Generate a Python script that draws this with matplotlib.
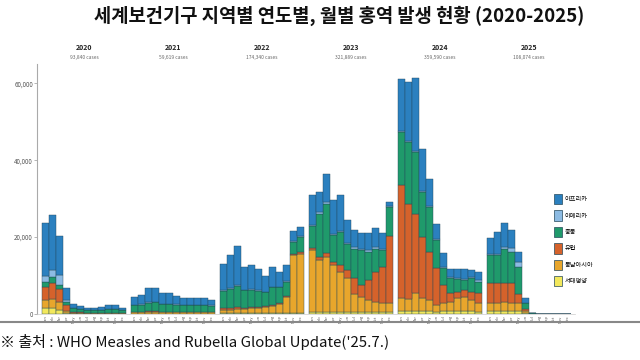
import numpy as np
import matplotlib
matplotlib.use('Agg')
from matplotlib import pyplot as plt
from matplotlib.patches import Patch
from matplotlib.lines import Line2D

plt.rcParams['font.family'] = ['Noto Sans CJK KR', 'DejaVu Sans']

years = ['2020', '2021', '2022', '2023', '2024', '2025']
year_cases = ['93,840 cases', '59,619 cases', '174,340 cases',
              '321,889 cases', '359,590 cases', '108,074 cases']
months = ['Jan', 'Feb', 'Mar', 'Apr', 'May', 'Jun',
          'Jul', 'Aug', 'Sep', 'Oct', 'Nov', 'Dec']

regions = ['아프리카', '아메리카', '중동', '유럽', '동남아시아', '서태평양']

# monthly cases (thousands), one row per year
western_pacific = [
    1.5, 1.5, 1.0, 0.2, 0.1, 0.1, 0.1, 0.1, 0.1, 0.1, 0.1, 0.1,
    0.1, 0.1, 0.1, 0.1, 0.1, 0.1, 0.1, 0.1, 0.1, 0.1, 0.1, 0.1,
    0.3, 0.3, 0.3, 0.3, 0.3, 0.3, 0.3, 0.3, 0.3, 0.3, 0.3, 0.3,
    0.5, 0.5, 0.5, 0.5, 0.5, 0.5, 0.5, 0.5, 0.5, 0.5, 0.5, 0.5,
    0.8, 0.8, 0.8, 0.8, 0.8, 0.6, 0.8, 0.8, 0.8, 0.8, 0.8, 0.6,
    0.8, 0.8, 0.8, 0.8, 0.8, 0.2, 0.0, 0.0, 0.0, 0.0, 0.0, 0.0,
]
south_east_asia = [
    2.1, 2.5, 2.0, 0.5, 0.2, 0.2, 0.1, 0.1, 0.1, 0.1, 0.1, 0.1,
    0.3, 0.3, 0.3, 0.3, 0.3, 0.3, 0.3, 0.3, 0.3, 0.3, 0.3, 0.3,
    0.8, 0.8, 1.0, 1.0, 1.2, 1.3, 1.5, 1.8, 2.3, 4.0, 15.0, 15.3,
    16.1, 13.5, 14.4, 12.2, 10.5, 8.8, 4.7, 4.0, 3.1, 2.7, 2.4, 2.3,
    3.3, 3.0, 4.6, 3.3, 2.8, 1.7, 2.0, 2.4, 3.3, 3.7, 2.8, 2.2,
    2.0, 2.0, 2.4, 2.0, 2.0, 0.6, 0.05, 0.0, 0.0, 0.0, 0.0, 0.0,
]
europe = [
    3.3, 4.0, 3.5, 1.5, 0.2, 0.1, 0.1, 0.1, 0.1, 0.1, 0.1, 0.1,
    0.2, 0.2, 0.3, 0.3, 0.2, 0.2, 0.2, 0.2, 0.2, 0.2, 0.2, 0.2,
    0.4, 0.4, 0.4, 0.3, 0.3, 0.3, 0.3, 0.3, 0.3, 0.3, 0.4, 0.4,
    0.5, 0.7, 0.9, 0.9, 1.7, 2.1, 4.1, 3.0, 5.2, 7.8, 9.4, 17.5,
    29.4, 24.9, 20.7, 16.0, 12.6, 9.6, 4.7, 2.2, 1.7, 1.7, 2.2, 2.6,
    5.2, 5.2, 4.8, 5.2, 2.4, 0.5, 0.05, 0.0, 0.0, 0.0, 0.0, 0.0,
]
middle_east = [
    1.5, 1.5, 1.0, 1.0, 1.0, 0.9, 0.6, 0.6, 0.7, 1.0, 1.0, 0.6,
    1.6, 1.8, 2.2, 2.3, 2.0, 2.0, 1.8, 1.6, 1.7, 1.7, 1.7, 1.5,
    4.5, 5.0, 5.5, 4.5, 4.5, 4.0, 3.5, 4.5, 4.0, 3.8, 3.0, 4.0,
    5.8, 11.4, 12.9, 6.9, 8.7, 6.7, 7.7, 9.1, 7.4, 6.0, 4.3, 7.6,
    13.9, 16.1, 16.1, 11.7, 11.7, 7.3, 4.4, 3.9, 3.2, 2.6, 3.5, 3.0,
    7.3, 7.3, 9.0, 8.2, 7.1, 1.5, 0.1, 0.0, 0.0, 0.0, 0.0, 0.0,
]
americas = [
    1.5, 2.0, 2.5, 0.5, 0.1, 0.1, 0.1, 0.1, 0.1, 0.1, 0.1, 0.1,
    0.1, 0.1, 0.1, 0.1, 0.1, 0.1, 0.1, 0.1, 0.1, 0.1, 0.1, 0.1,
    0.2, 0.2, 0.3, 0.2, 0.2, 0.2, 0.2, 0.2, 0.2, 0.2, 0.2, 0.2,
    0.3, 0.3, 0.3, 0.3, 0.3, 0.3, 0.3, 0.3, 0.3, 0.3, 0.3, 0.3,
    0.3, 0.3, 0.3, 0.3, 0.3, 0.3, 0.3, 0.3, 0.3, 0.3, 0.3, 0.3,
    0.3, 0.3, 0.5, 1.0, 1.3, 0.1, 0.0, 0.0, 0.0, 0.0, 0.0, 0.0,
]
africa = [
    13.8, 14.2, 10.3, 3.0, 0.9, 0.7, 0.5, 0.5, 0.6, 0.9, 0.9, 0.5,
    2.2, 2.5, 3.7, 3.6, 2.7, 2.7, 2.2, 1.8, 1.7, 1.7, 1.7, 1.3,
    6.8, 8.6, 10.2, 6.0, 6.1, 5.5, 4.1, 5.2, 3.9, 4.0, 2.7, 2.5,
    7.7, 5.3, 7.5, 8.8, 9.2, 6.0, 4.5, 4.1, 4.5, 5.0, 4.2, 1.0,
    13.3, 15.3, 19.0, 10.7, 7.0, 3.9, 3.7, 2.0, 2.3, 2.5, 1.8, 2.3,
    4.2, 5.6, 6.2, 4.6, 2.6, 1.2, 0.1, 0.0, 0.0, 0.0, 0.0, 0.0,
]

# bottom-to-top stacking order
stack = [western_pacific, south_east_asia, europe, middle_east, americas, africa]
colors = ['#f2e85c', '#e8a62c', '#d5622b', '#1f9a6b', '#8cbbe3', '#2b80bf']

fig = plt.figure(figsize=(6.4, 3.6), dpi=100)
ax = fig.add_axes([0.058, 0.128, 0.841, 0.694])

gap = 12.7
x = np.array([y * gap + m for y in range(len(years)) for m in range(12)])

bottom = np.zeros(len(x))
for vals, c in zip(stack, colors):
    v = np.array(vals) * 1000
    ax.bar(x, v, width=0.95, bottom=bottom, color=c,
           edgecolor='#24485a', linewidth=0.3)
    bottom += v

ax.set_xlim(-1.2, 75.6)
ax.set_ylim(0, 65000)
ax.set_yticks([0, 20000, 40000, 60000])
ax.set_yticklabels(['0', '20,000', '40,000', '60,000'], fontsize=4.5, color='#555555')
ax.set_xticks(x)
ax.set_xticklabels(months * len(years), fontsize=2.8, rotation=90, color='#555555')
ax.tick_params(axis='x', length=0, pad=1)
ax.tick_params(axis='y', length=2, width=0.5, color='#999999', pad=1)

for s in ['top', 'right']:
    ax.spines[s].set_visible(False)
ax.spines['left'].set_color('#aaaaaa')
ax.spines['left'].set_linewidth(0.8)
ax.spines['bottom'].set_color('#cccccc')
ax.spines['bottom'].set_linewidth(0.5)

tr = ax.get_xaxis_transform()
for i, (yr, cs) in enumerate(zip(years, year_cases)):
    cx = i * gap + 5.5
    ax.text(cx, 1.068, yr, transform=tr, ha='center', va='center',
            fontsize=5, fontweight='bold', color='#222222')
    ax.text(cx, 1.028, cs, transform=tr, ha='center', va='center',
            fontsize=3.5, color='#666666')

handles = [Patch(facecolor=c, edgecolor='#24485a', linewidth=0.5)
           for c in colors[::-1]]
ax.legend(handles, regions, loc='upper left', bbox_to_anchor=(0.955, 0.49),
          frameon=False, fontsize=4.5, handlelength=1.4, handleheight=2.2,
          labelspacing=0.95, handletextpad=0.4, borderaxespad=0)

fig.text(0.53, 0.955, '세계보건기구 지역별 연도별, 월별 홍역 발생 현황 (2020-2025)',
         ha='center', va='center', fontsize=13.5, fontweight='bold', color='#111111')

fig.add_artist(Line2D([0, 1], [1 - 322 / 360] * 2, color='#888888', linewidth=1.5))
fig.text(0.0, 1 - 342 / 360, "※ 출처 : WHO Measles and Rubella Global Update('25.7.)",
         ha='left', va='center', fontsize=10.8, color='#111111')

fig.savefig('out.png', dpi=100)
